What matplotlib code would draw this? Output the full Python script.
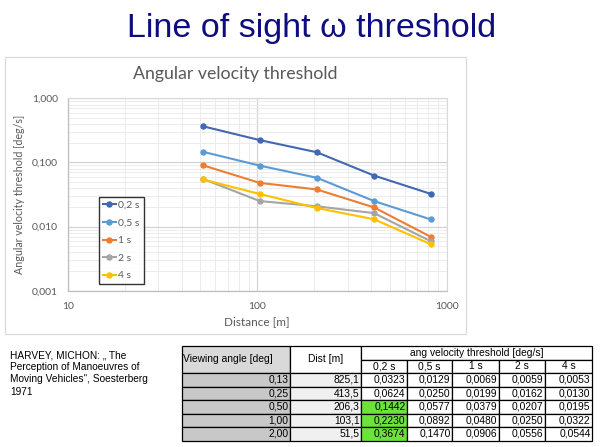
import matplotlib
matplotlib.use("Agg")
import matplotlib.pyplot as plt
from matplotlib.patches import Rectangle
from matplotlib.ticker import FixedLocator, FixedFormatter, LogLocator, NullFormatter

# ---------------- data ----------------
distances = [825.1, 413.5, 206.3, 103.1, 51.5]
viewing_angles = ["0,13", "0,25", "0,50", "1,00", "2,00"]
dist_labels = ["825,1", "413,5", "206,3", "103,1", "51,5"]
series_names = ["0,2 s", "0,5 s", "1 s", "2 s", "4 s"]
v_02 = [0.0323, 0.0624, 0.1442, 0.2230, 0.3674]
v_05 = [0.0129, 0.0250, 0.0577, 0.0892, 0.1470]
v_1 = [0.0069, 0.0199, 0.0379, 0.0480, 0.0906]
v_2 = [0.0059, 0.0162, 0.0207, 0.0250, 0.0556]
v_4 = [0.0053, 0.0130, 0.0195, 0.0322, 0.0544]
series_values = [v_02, v_05, v_1, v_2, v_4]
series_colors = ["#4169b3", "#5b9bd5", "#ed7d31", "#a5a5a5", "#ffc000"]
y_ticks = [0.001, 0.01, 0.1, 1.0]
y_tick_labels = ["0,001", "0,010", "0,100", "1,000"]
x_ticks = [10, 100, 1000]
x_tick_labels = ["10", "100", "1000"]
highlight_rows = [2, 3, 4]  # rows with green 0,2 s cell

W, H = 600, 447
fig = plt.figure(figsize=(6.0, 4.47), dpi=100)

def fx(px):
    return px / W

def fy(py):
    return 1 - py / H

# slide title
fig.text(fx(312), fy(28), "Line of sight \u03c9 threshold", ha="center", va="center",
         fontsize=24.5, color="#0d0d80", family=["Liberation Sans", "DejaVu Sans"])

# chart frame
fig.patches.append(Rectangle((fx(5), fy(334)), fx(461), (334 - 57) / H, transform=fig.transFigure,
                             fill=False, edgecolor="#d9d9d9", linewidth=0.8))

chart_font = ["Lato", "DejaVu Sans"]
fig.text(fx(235), fy(74), "Angular velocity threshold", ha="center", va="center",
         fontsize=12.8, color="#595959", family=chart_font)

ax = fig.add_axes([fx(67.7), fy(290.7), (446.7 - 67.7) / W, (290.7 - 98.3) / H])
ax.set_xscale("log")
ax.set_yscale("log")
ax.set_xlim(10, 1000)
ax.set_ylim(0.001, 1.0)

for name, vals, col in zip(series_names, series_values, series_colors):
    ax.plot(distances, vals, color=col, linewidth=1.5, marker="o", markersize=3.6,
            label=name, zorder=3)

ax.xaxis.set_major_locator(FixedLocator(x_ticks))
ax.xaxis.set_major_formatter(FixedFormatter(x_tick_labels))
ax.yaxis.set_major_locator(FixedLocator(y_ticks))
ax.yaxis.set_major_formatter(FixedFormatter(y_tick_labels))
ax.xaxis.set_minor_locator(LogLocator(base=10, subs=range(2, 10)))
ax.yaxis.set_minor_locator(LogLocator(base=10, subs=range(2, 10)))
ax.xaxis.set_minor_formatter(NullFormatter())
ax.yaxis.set_minor_formatter(NullFormatter())
ax.tick_params(which="both", length=0, labelsize=7.5, labelcolor="#595959")
ax.tick_params(axis="x", pad=8)
ax.tick_params(axis="y", pad=7)
for lab in ax.get_xticklabels() + ax.get_yticklabels():
    lab.set_family(chart_font)
ax.grid(True, which="major", color="#d4d4d4", linewidth=0.9)
ax.grid(True, which="minor", color="#ececec", linewidth=0.7)
ax.set_axisbelow(True)
for side in ["top", "right"]:
    ax.spines[side].set_color("#d9d9d9")
    ax.spines[side].set_linewidth(0.8)
for side in ["left", "bottom"]:
    ax.spines[side].set_color("#bfbfbf")
    ax.spines[side].set_linewidth(0.9)

ax.set_xlabel("Distance [m]", fontsize=8.5, color="#595959", family=chart_font, labelpad=4)
ax.set_ylabel("Angular velocity threshold [deg/s]", fontsize=7.7, color="#595959",
              family=chart_font, labelpad=5)

leg = ax.legend(loc="upper left", bbox_to_anchor=(fx(98.7), fy(196.7)), bbox_transform=fig.transFigure,
                fancybox=False, frameon=True, edgecolor="black",
                handlelength=1.3, handletextpad=0.2, labelspacing=0.8, borderpad=0.38,
                borderaxespad=0, prop={"family": chart_font, "size": 7.5})
leg.get_frame().set_linewidth(1.0)
for t in leg.get_texts():
    t.set_color("#595959")

# citation text
cite = ["HARVEY, MICHON: \u201e The", "Perception of Manoeuvres of",
        "Moving Vehicles\", Soesterberg", "1971"]
for i, line in enumerate(cite):
    fig.text(fx(10), fy(355 + i * 12.2), line, ha="left", va="center", fontsize=7.3,
             color="black", family=["Liberation Sans", "DejaVu Sans"])

# table
tax = fig.add_axes([0, 0, 1, 1])
tax.set_xlim(0, W)
tax.set_ylim(H, 0)
tax.axis("off")
cols = [182, 290, 361, 407, 452, 499, 545, 592]
rows = [346, 359.5, 373, 386.5, 400, 413.5, 427, 440.5]
tfont = ["Liberation Sans", "DejaVu Sans"]
tfs = 7.4
lw = 0.9

def cell(x0, x1, y0, y1, fc):
    tax.add_patch(Rectangle((x0, y0), x1 - x0, y1 - y0, facecolor=fc, edgecolor="black", linewidth=lw))

# header
cell(cols[0], cols[1], rows[0], rows[2], "#d9d9d9")
tax.text(cols[0] + 1, (rows[0] + rows[2]) / 2, "Viewing angle [deg]", ha="left", va="center",
         fontsize=tfs, family=tfont)
cell(cols[1], cols[2], rows[0], rows[2], "white")
tax.text((cols[1] + cols[2]) / 2, (rows[0] + rows[2]) / 2, "Dist [m]", ha="center", va="center",
         fontsize=tfs, family=tfont)
cell(cols[2], cols[7], rows[0], rows[1], "white")
tax.text((cols[2] + cols[7]) / 2, (rows[0] + rows[1]) / 2, "ang velocity threshold [deg/s]",
         ha="center", va="center", fontsize=tfs, family=tfont)
for j, name in enumerate(series_names):
    cell(cols[2 + j], cols[3 + j], rows[1], rows[2], "white")
    tax.text((cols[2 + j] + cols[3 + j]) / 2, (rows[1] + rows[2]) / 2, name, ha="center", va="center",
             fontsize=tfs, family=tfont)

for i in range(len(distances)):
    y0, y1 = rows[2 + i], rows[3 + i]
    ym = (y0 + y1) / 2
    cell(cols[0], cols[1], y0, y1, "#c8c8c8")
    tax.text(cols[1] - 1.5, ym, viewing_angles[i], ha="right", va="center", fontsize=tfs, family=tfont)
    cell(cols[1], cols[2], y0, y1, "#f0f0f0")
    tax.text(cols[2] - 1.5, ym, dist_labels[i], ha="right", va="center", fontsize=tfs, family=tfont)
    for j, vals in enumerate(series_values):
        fc = "#6be33a" if (j == 0 and i in highlight_rows) else "white"
        cell(cols[2 + j], cols[3 + j], y0, y1, fc)
        tax.text(cols[3 + j] - 1.5, ym, f"{vals[i]:.4f}".replace(".", ","), ha="right", va="center",
                 fontsize=tfs, family=tfont)

fig.savefig("out.png", dpi=100)
